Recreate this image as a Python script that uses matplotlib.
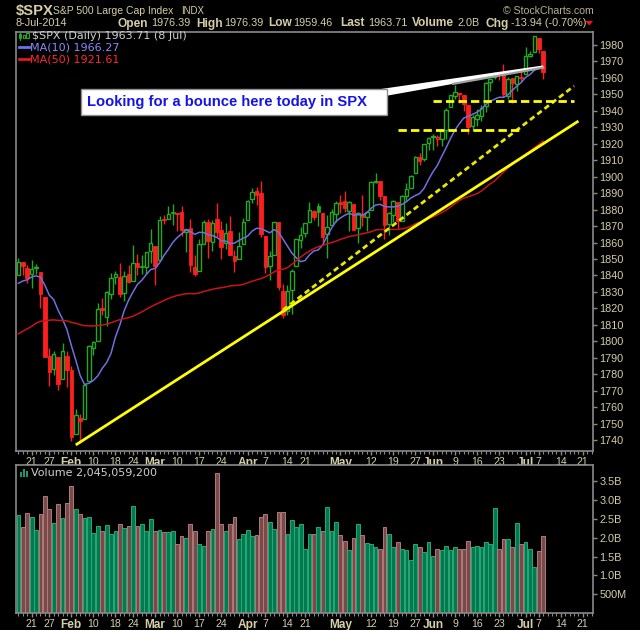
import matplotlib
matplotlib.use('Agg')
import matplotlib.pyplot as plt
import numpy as np
import pandas as pd
from matplotlib.patches import Rectangle, Polygon

# ---------------- data ----------------
holidays = ['2014-01-20', '2014-02-17', '2014-04-18', '2014-05-26', '2014-07-04']

# closes before the visible window (used only for the moving averages)
prior_close = [
    1761.64, 1767.93, 1762.97, 1770.49, 1747.15, 1770.61, 1771.89, 1767.69, 1782.00, 1790.62,
    1798.18, 1791.53, 1787.87, 1781.37, 1795.85, 1804.76, 1802.48, 1802.75, 1807.23, 1805.81,
    1800.90, 1795.15, 1792.81, 1785.03, 1805.09, 1808.37, 1802.62, 1782.22, 1775.50, 1775.32,
    1786.54, 1781.00, 1810.65, 1809.60, 1818.32, 1827.99, 1833.32, 1842.02, 1841.40, 1841.07,
    1848.36, 1831.98, 1831.37, 1826.77, 1837.88, 1837.49, 1838.13, 1842.37, 1819.20, 1838.88]

opens = [
    1840.52, 1847.99, 1844.23, 1841.05, 1844.71, 1842.29, 1826.96, 1791.03, 1783.00, 1790.15, 1777.17, 1790.88,
    1782.68, 1743.82, 1753.38, 1752.99, 1776.01, 1796.20, 1800.45, 1820.12, 1814.82, 1828.46, 1839.03, 1838.90, 1829.24, 1841.07, 1836.78, 1847.66, 1845.79, 1844.90, 1855.12,
    1857.68, 1849.23, 1874.05, 1874.18, 1878.52, 1877.86, 1878.26, 1866.15, 1869.06, 1845.07, 1842.81, 1858.92, 1872.25, 1860.09, 1874.53, 1867.67, 1859.48, 1867.09, 1852.11, 1850.07, 1859.16,
    1873.96, 1886.61, 1891.43, 1890.25, 1863.92, 1845.48, 1852.64, 1872.28, 1830.65, 1818.18, 1831.45, 1846.01, 1861.73, 1865.79, 1872.57, 1879.32, 1881.97, 1877.72, 1865.00, 1870.78, 1877.10,
    1884.39, 1885.30, 1879.45, 1883.69, 1868.53, 1877.39, 1875.27, 1880.03, 1896.75, 1897.13, 1888.16, 1871.19, 1876.66, 1884.88, 1873.34, 1888.19, 1893.32, 1902.01, 1911.77, 1910.60, 1920.33,
    1923.87, 1923.07, 1923.06, 1928.52, 1942.41, 1948.97, 1950.34, 1949.37, 1943.35, 1930.80, 1934.84, 1937.15, 1942.73, 1957.50, 1960.45, 1962.92, 1961.97, 1949.27, 1959.89, 1956.56, 1960.79,
    1962.29, 1973.06, 1975.88, 1984.22, 1976.39]
highs = [
    1850.84, 1847.99, 1846.04, 1849.31, 1846.87, 1842.29, 1826.96, 1795.98, 1793.87, 1790.15, 1798.77, 1793.88,
    1784.83, 1758.73, 1755.79, 1774.06, 1798.03, 1799.94, 1823.54, 1826.55, 1830.25, 1841.65, 1842.87, 1847.50, 1842.79, 1846.13, 1858.71, 1852.91, 1852.65, 1854.53, 1867.92,
    1857.68, 1876.23, 1876.53, 1881.94, 1883.57, 1877.87, 1882.35, 1868.38, 1874.40, 1852.44, 1862.30, 1873.76, 1874.14, 1873.49, 1883.97, 1873.34, 1871.87, 1875.92, 1855.55, 1866.63, 1875.18,
    1885.84, 1893.17, 1893.80, 1897.28, 1864.04, 1854.95, 1872.43, 1872.53, 1835.07, 1834.19, 1844.02, 1862.31, 1869.63, 1871.89, 1884.89, 1879.75, 1884.06, 1877.72, 1877.01, 1880.60, 1885.20,
    1888.59, 1891.33, 1885.51, 1883.69, 1878.83, 1889.07, 1878.57, 1897.13, 1902.17, 1897.13, 1888.16, 1878.28, 1886.00, 1884.88, 1888.80, 1896.33, 1901.26, 1912.28, 1914.46, 1920.03, 1924.03,
    1925.88, 1925.07, 1928.63, 1941.74, 1949.44, 1955.55, 1950.86, 1949.37, 1943.35, 1937.30, 1941.15, 1943.69, 1957.74, 1959.87, 1963.91, 1963.74, 1968.17, 1960.83, 1959.89, 1961.47, 1964.24,
    1978.58, 1976.67, 1985.59, 1984.22, 1976.39]
lows = [
    1840.52, 1840.30, 1835.23, 1832.38, 1840.88, 1820.06, 1790.29, 1772.88, 1779.49, 1770.45, 1777.17, 1772.26,
    1739.66, 1743.82, 1737.92, 1752.99, 1776.01, 1791.83, 1800.41, 1815.97, 1809.22, 1825.59, 1835.01, 1826.99, 1824.58, 1835.60, 1836.78, 1840.19, 1840.66, 1841.13, 1847.67,
    1834.44, 1849.23, 1871.11, 1874.18, 1870.56, 1867.04, 1863.88, 1854.38, 1841.86, 1839.57, 1842.81, 1858.92, 1850.35, 1854.63, 1863.46, 1849.69, 1855.96, 1852.56, 1842.11, 1850.07, 1859.16,
    1873.96, 1883.79, 1882.65, 1863.26, 1841.48, 1837.49, 1852.38, 1830.87, 1814.36, 1815.80, 1816.29, 1846.01, 1856.72, 1863.18, 1872.57, 1873.91, 1870.24, 1859.70, 1850.61, 1870.78, 1872.69,
    1878.04, 1878.50, 1866.77, 1867.72, 1859.79, 1870.05, 1867.02, 1880.03, 1896.06, 1885.77, 1862.36, 1864.82, 1872.42, 1868.14, 1873.34, 1885.39, 1893.32, 1902.01, 1907.30, 1909.82, 1915.98,
    1915.98, 1918.79, 1918.60, 1922.93, 1942.41, 1947.16, 1944.64, 1940.08, 1925.78, 1927.69, 1930.91, 1933.55, 1939.29, 1952.26, 1959.17, 1958.89, 1948.34, 1947.49, 1944.69, 1952.18, 1958.22,
    1962.29, 1972.58, 1975.88, 1974.88, 1959.46]
closes = [
    1848.38, 1845.89, 1838.70, 1843.80, 1844.86, 1828.46, 1790.29, 1781.56, 1792.50, 1774.20, 1794.19, 1782.59,
    1741.89, 1755.20, 1751.64, 1773.43, 1797.02, 1799.84, 1819.75, 1819.26, 1829.83, 1838.63, 1840.76, 1828.75, 1839.78, 1836.25, 1847.61, 1845.12, 1845.16, 1854.29, 1859.45,
    1845.73, 1873.91, 1873.81, 1877.03, 1878.04, 1877.17, 1867.63, 1868.20, 1846.34, 1841.13, 1858.83, 1872.25, 1860.77, 1872.01, 1866.52, 1857.44, 1865.62, 1852.56, 1849.04, 1857.62, 1872.34,
    1885.52, 1890.90, 1888.77, 1865.09, 1845.04, 1851.96, 1872.18, 1833.08, 1815.69, 1830.61, 1842.98, 1862.31, 1864.85, 1871.89, 1879.55, 1875.39, 1878.61, 1863.40, 1869.43, 1878.33, 1883.95,
    1883.68, 1881.14, 1884.66, 1867.72, 1878.21, 1875.63, 1878.48, 1896.65, 1897.45, 1888.53, 1870.85, 1877.86, 1885.08, 1872.83, 1888.03, 1892.49, 1900.53, 1911.91, 1909.78, 1920.03, 1923.57,
    1924.97, 1924.24, 1927.88, 1940.46, 1949.44, 1951.27, 1950.79, 1943.89, 1930.11, 1936.16, 1937.78, 1941.99, 1956.98, 1959.48, 1962.87, 1962.61, 1949.98, 1959.53, 1957.22, 1960.96, 1960.23,
    1973.32, 1974.62, 1985.44, 1977.65, 1963.71]
volume_b = [
    2.61, 2.29, 2.66, 2.55, 2.21, 2.63, 3.11, 2.76, 2.39, 2.89, 2.53, 2.92,
    3.37, 2.76, 2.63, 2.53, 2.55, 2.13, 2.32, 2.17, 2.34, 2.11, 2.18, 2.37, 2.26, 2.32, 2.84, 2.32, 2.37, 2.18, 2.50,
    2.17, 2.21, 2.14, 2.14, 2.17, 1.82, 2.04, 2.00, 2.37, 2.17, 1.84, 1.79, 2.17, 2.24, 3.72, 2.37, 2.18, 2.37, 2.56, 1.97, 2.09,
    2.21, 2.04, 2.06, 2.56, 2.64, 2.42, 2.24, 2.68, 2.68, 2.11, 2.47, 2.29, 2.37, 1.69, 2.09, 2.09, 2.29, 2.18, 2.82, 2.17, 2.42,
    2.06, 1.92, 1.67, 2.00, 2.37, 2.06, 1.87, 1.82, 1.76, 1.71, 2.29, 2.11, 1.74, 1.89, 1.71, 1.67, 1.42, 1.82, 1.74, 1.61, 1.89,
    1.51, 1.71, 1.67, 1.79, 1.67, 1.74, 1.71, 1.71, 1.92, 1.74, 1.79, 1.76, 1.89, 1.82, 2.79, 1.71, 1.97, 1.97, 1.74, 2.39, 1.84,
    1.89, 1.69, 1.21, 1.64, 2.045]

tick_dates = ['2014-01-21', '2014-01-27', '2014-02-03', '2014-02-10', '2014-02-18', '2014-02-24',
              '2014-03-03', '2014-03-10', '2014-03-17', '2014-03-24', '2014-04-01', '2014-04-07',
              '2014-04-14', '2014-04-21', '2014-05-01', '2014-05-12', '2014-05-19', '2014-05-27',
              '2014-06-02', '2014-06-09', '2014-06-16', '2014-06-23', '2014-07-01', '2014-07-07',
              '2014-07-14', '2014-07-21']
tick_labels = ['21', '27', 'Feb', '10', '18', '24', 'Mar', '10', '17', '24', 'Apr', '7', '14', '21',
               'May', '12', '19', '27', 'Jun', '9', '16', '23', 'Jul', '7', '14', '21']
price_ticks = list(range(1740, 1990, 10))
vol_ticks = [0.5, 1.0, 1.5, 2.0, 2.5, 3.0, 3.5]
vol_tick_labels = ['500M', '1.0B', '1.5B', '2.0B', '2.5B', '3.0B', '3.5B']

# hand-drawn annotation anchors (date, price)
trend_solid = [('2014-02-04', 1737.0), ('2014-07-18', 1933.8)]
trend_dashed = [('2014-04-11', 1819.0), ('2014-07-17', 1955.1)]
support_upper = [('2014-06-02', 1946.2), ('2014-07-17', 1946.2)]
support_lower = [('2014-05-20', 1928.5), ('2014-06-30', 1928.5)]
note_text = 'Looking for a bounce here today in SPX'

# ---------------- calendar ----------------
cal = pd.bdate_range('2014-01-15', '2014-07-31')
cal = cal[~cal.isin(pd.to_datetime(holidays))]
n = len(closes)
pos = {d: i for i, d in enumerate(cal)}
def xi(d):
    return pos[pd.Timestamp(d)]

all_close = pd.Series(prior_close + closes)
ma10 = all_close.rolling(10).mean().values[len(prior_close):]
ma50 = all_close.rolling(50).mean().values[len(prior_close):]
prev_close = [prior_close[-1]] + closes[:-1]
up = [c >= p for c, p in zip(closes, prev_close)]

# ---------------- figure ----------------
W, H = 640, 630
fig = plt.figure(figsize=(W / 100, H / 100), dpi=100, facecolor='black')
def fx(x): return x / W
def fy(y): return 1 - y / H

L, R = 16.3, 593.0
ax = fig.add_axes([fx(L), fy(450.7), fx(R) - fx(L), fy(31.7) - fy(450.7)])
axv = fig.add_axes([fx(L), fy(613), fx(R) - fx(L), fy(465) - fy(613)])

BEIGE = '#d6cea6'
GRID = '#8a8a8a'
GREEN = '#22a822'
RED = '#ff1e1e'
TF = 'Liberation Sans'

for a in (ax, axv):
    a.set_facecolor('black')
    for s in a.spines.values():
        s.set_color(GRID)
        s.set_linewidth(1.2)
    a.set_xlim(-0.48, 130.3)
    a.yaxis.tick_right()
    a.tick_params(axis='y', colors=GRID, length=3, width=1, pad=1.5, labelcolor=BEIGE, labelsize=7.8)
    a.tick_params(axis='x', which='major', colors=GRID, length=3, width=1, pad=1.2, labelcolor=BEIGE, labelsize=7.6)
    a.tick_params(axis='x', which='minor', colors=GRID, length=2, width=0.8)
    a.set_xticks([xi(d) for d in tick_dates])
    a.set_xticks(np.arange(0, 131), minor=True)
    a.set_xticklabels(tick_labels)
    for t, lab in zip(a.get_xticklabels(), tick_labels):
        t.set_fontfamily(TF)
        if lab.isalpha():
            t.set_fontweight('bold')
            t.set_fontsize(8.6)

# ---- candles ----
x = np.arange(n)
for i in range(n):
    col = GREEN if up[i] else RED
    o, h, l, c = opens[i], highs[i], lows[i], closes[i]
    ax.vlines(x[i], l, h, color=col, lw=1.0, zorder=2)
    lo, hi = min(o, c), max(o, c)
    hgt = max(hi - lo, 0.5)
    if c >= o:
        ax.add_patch(Rectangle((x[i] - 0.4, lo), 0.8, hgt, facecolor='black',
                               edgecolor=col, lw=1.0, zorder=3))
    else:
        ax.add_patch(Rectangle((x[i] - 0.4, lo), 0.8, hgt, facecolor=col,
                               edgecolor=col, lw=0.6, zorder=3))

ax.plot(x, ma10, color='#6f6fe0', lw=1.1, zorder=4)
ax.plot(x, ma50, color='#c81414', lw=1.1, zorder=4)

# ---- trend / support lines ----
def seg(p):
    return [xi(p[0][0]), xi(p[1][0])], [p[0][1], p[1][1]]
xs, ys = seg(trend_solid)
ax.plot(xs, ys, color='#ffff00', lw=2.0, zorder=5, solid_capstyle='butt')
xs, ys = seg(trend_dashed)
ax.plot(xs, ys, color='#e8e800', lw=2.0, zorder=5, dashes=(2.0, 1.3))
for sp in (support_upper, support_lower):
    xs, ys = seg(sp)
    ax.plot(xs, ys, color='#ffff00', lw=2.0, zorder=5, dashes=(3.0, 1.5))

ax.set_ylim(1733.5, 1988.1)
ax.set_yticks(price_ticks)
ax.set_yticklabels([str(v) for v in price_ticks])
for t in ax.get_yticklabels():
    t.set_fontfamily(TF)

# ---- note box and callout (pixel positions converted to data) ----
def px2data(px, py):
    disp = fig.transFigure.transform((fx(px), fy(py)))
    return ax.transData.inverted().transform(disp)

fig.canvas.draw()
bx0, by0 = px2data(81, 115)
bx1, by1 = px2data(387, 89)
ax.add_patch(Rectangle((bx0, by0), bx1 - bx0, by1 - by0, facecolor='white',
                       edgecolor='#909090', lw=1.0, zorder=7))
ax.text((bx0 + bx1) / 2 - 1.5, (by0 + by1) / 2, note_text, color='#1414e6', fontsize=10.6,
        fontweight='bold', family=TF, ha='center', va='center', zorder=8)
tip_x = xi('2014-07-08')
p0 = px2data(381, 89)
p1 = px2data(387, 95.7)
poly = [p0, p1, (tip_x, 1966.2), (tip_x, 1967.6)]
ax.add_patch(Polygon(poly, closed=True, facecolor='white', edgecolor='none', zorder=6))
gx0 = p1[0] + 15
gy0 = p1[1] + (1966.2 - p1[1]) * 15 / (tip_x - p1[0])
ax.plot([gx0, tip_x], [gy0, 1966.2], color='#a0a0a0', lw=1.6, zorder=6.5)

# ---- volume ----
vcol = ['#007a4e' if u else '#7a4a4a' for u in up]
vedge = ['#2aa878' if u else '#b07a7a' for u in up]
axv.bar(x, volume_b, width=0.86, color=vcol, edgecolor=vedge, linewidth=0.7, zorder=2)
axv.set_ylim(0, 3.93)
axv.set_yticks(vol_ticks)
axv.set_yticklabels(vol_tick_labels)
for t in axv.get_yticklabels():
    t.set_fontfamily(TF)

# ---- header text ----
def ftext(px, py, s, **kw):
    kw.setdefault('color', BEIGE)
    kw.setdefault('family', TF)
    fig.text(fx(px), fy(py), s, ha='left', va='center', **kw)

ftext(15.5, 11, '$SPX', fontsize=10.6, fontweight='bold')
ftext(53, 11, 'S&P 500 Large Cap Index', fontsize=7.5)
ftext(181, 11.5, 'INDX', fontsize=6.9)
ftext(503, 11, '\u00a9 StockCharts.com', fontsize=7.6, color='#b8b090')
ftext(16, 23.5, '8-Jul-2014', fontsize=7.8)
hdr = [(118, 'Open', True), (151, '1976.39', False), (196, 'High', True), (224, '1976.39', False),
       (268, 'Low', True), (293, '1959.46', False), (340, 'Last', True), (368, '1963.71', False),
       (412, 'Volume', True), (457, '2.0B', False), (486, 'Chg', True), (511, '-13.94 (-0.70%)', False)]
for px, s, b in hdr:
    if b:
        ftext(px, 23.5, s, fontsize=8.6, fontweight='bold')
    else:
        ftext(px, 23.5, s, fontsize=7.8)
fig.patches.append(Polygon([(fx(585.5), fy(21)), (fx(593), fy(21)), (fx(589.2), fy(25.5))],
                           closed=True, facecolor='#ff1010', edgecolor='none',
                           transform=fig.transFigure, figure=fig))

# ---- legends ----
LEG = 'DejaVu Sans'
ftext(32, 35.8, '$SPX (Daily) 1963.71 (8 Jul)', fontsize=8, color='#cfcfcf', family=LEG)
ftext(30, 47.3, 'MA(10) 1966.27', fontsize=8, color='#8a8aff', family=LEG)
ftext(30, 59.3, 'MA(50) 1921.61', fontsize=8, color='#ff2a2a', family=LEG)
ftext(31, 472.8, 'Volume 2,045,059,200', fontsize=8, color='#cfcfcf', family=LEG)

def frect(x0, y0, w, h, fc, ec='none', lw=0.8):
    fig.patches.append(Rectangle((fx(x0), fy(y0 + h)), w / W, h / H, facecolor=fc, edgecolor=ec,
                                 lw=lw, transform=fig.transFigure, figure=fig))
# legend icons
fig.lines.append(plt.Line2D([fx(19.5), fx(19.5)], [fy(32), fy(39.5)], color=GREEN, lw=0.8, transform=fig.transFigure))
frect(18.5, 33.5, 2.5, 4, 'black', GREEN)
frect(22.5, 34.5, 2.5, 3.5, 'black', GREEN)
frect(26.0, 33.0, 2.5, 5, 'black', GREEN)
fig.lines.append(plt.Line2D([fx(19), fx(29)], [fy(47.3), fy(47.3)], color='#7070e8', lw=2.0, transform=fig.transFigure))
fig.lines.append(plt.Line2D([fx(19), fx(29)], [fy(59.3), fy(59.3)], color='#e81818', lw=2.0, transform=fig.transFigure))
frect(19.5, 472, 2, 5, '#1a9a6a')
frect(22.5, 469, 2, 8, '#1a9a6a')
frect(25.5, 470.5, 2, 6.5, '#1a9a6a')

fig.savefig('out.png', dpi=100, facecolor='black')
